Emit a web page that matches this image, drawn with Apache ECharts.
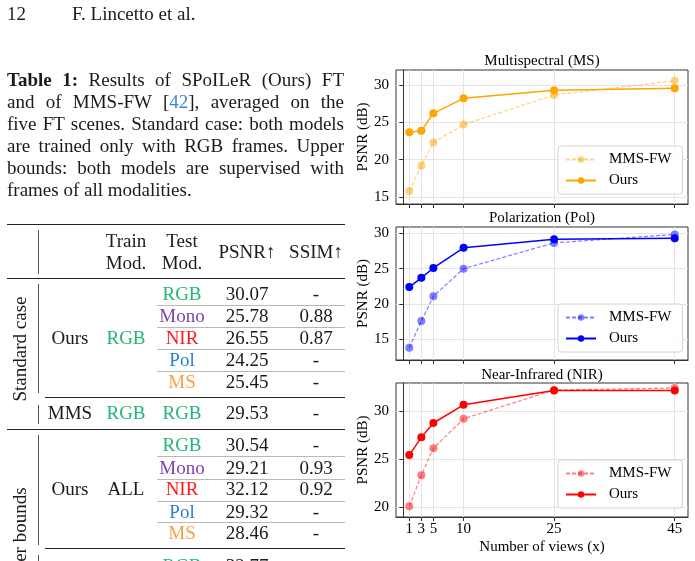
<!DOCTYPE html>
<html lang="en">
<head>
    <meta charset="UTF-8">
    <title>SPoILeR results</title>
    <script src="https://cdn.jsdelivr.net/npm/echarts@6.0.0/dist/echarts.min.js"></script>
<style>
    * {
        padding: 0;
        margin: 0;
    }
    body {
        background: #fff;
    }
    #page {
        position: relative;
        width: 695px;
        height: 561px;
        overflow: hidden;
    }
    #chart {
        position: absolute;
        left: 0;
        top: 0;
        width: 695px;
        height: 561px;
    }
    #paper {
        position: absolute;
        left: 0;
        top: 0;
        width: 695px;
        height: 561px;
        overflow: hidden;
        pointer-events: none;
        font-family: "Liberation Serif", "Times New Roman", serif;
        font-size: 19px;
        color: #1a1a1a;
    }
    .tx {
        position: absolute;
        white-space: nowrap;
        line-height: 22px;
    }
    .cap {
        text-align: justify;
        text-align-last: justify;
    }
    .lastcap {
        text-align-last: left;
    }
    .ln {
        position: absolute;
    }
</style>
</head>
<body>
<div id="page">
    <div id="chart"></div>
    <div id="paper"></div>
</div>
<script type="text/javascript">
    // number of views on the x axis
    var views = [1, 3, 5, 10, 25, 45];

    // PSNR (dB)
    var msMms   = [15.8, 19.2, 22.3, 24.7, 28.65, 30.55];
    var msOurs  = [23.65, 23.85, 26.2, 28.2, 29.3, 29.55];
    var polMms  = [13.8, 17.6, 21.1, 25.0, 28.65, 29.85];
    var polOurs = [22.4, 23.7, 25.1, 27.95, 29.15, 29.3];
    var nirMms  = [20.1, 23.35, 26.15, 29.25, 32.25, 32.45];
    var nirOurs = [25.45, 27.3, 28.8, 30.7, 32.2, 32.2];

    var yTicksMs  = [15, 20, 25, 30];
    var yTicksPol = [15, 20, 25, 30];
    var yTicksNir = [20, 25, 30];

    // table 1
    var testMods = ['RGB', 'Mono', 'NIR', 'Pol', 'MS'];
    var stdPsnr = ['30.07', '25.78', '26.55', '24.25', '25.45'];
    var stdSsim = ['-', '0.88', '0.87', '-', '-'];
    var mmsPsnr = ['29.53'];
    var mmsSsim = ['-'];
    var ubPsnr = ['30.54', '29.21', '32.12', '29.32', '28.46'];
    var ubSsim = ['-', '0.93', '0.92', '-', '-'];

    var modColors = {RGB: '#22b573', Mono: '#7d3fb2', NIR: '#ff1a1a', Pol: '#2a7fd1', MS: '#f6a046'};

    var serif = '"Liberation Serif", "Times New Roman", serif';

    // ---------- charts ----------
    var panels = [
        {key: 'MS', title: 'Multispectral (MS)', color: '#FFA500', mms: msMms, ours: msOurs,
            ticks: yTicksMs, ymin: 14.05, ymax: 32.0, top: 70, height: 134, legendTop: 146, titleY: 61},
        {key: 'Pol', title: 'Polarization (Pol)', color: '#0000FF', mms: polMms, ours: polOurs,
            ticks: yTicksPol, ymin: 12.07, ymax: 30.9, top: 227, height: 133, legendTop: 304, titleY: 218},
        {key: 'NIR', title: 'Near-Infrared (NIR)', color: '#FF0000', mms: nirMms, ours: nirOurs,
            ticks: yTicksNir, ymin: 18.98, ymax: 32.98, top: 383, height: 134, legendTop: 460, titleY: 375}
    ];

    function pairs(ys) {
        return views.map(function (v, j) { return [v, ys[j]]; });
    }

    var grids = [], xAxes = [], yAxes = [], series = [], legends = [], graphics = [];
    panels.forEach(function (p, i) {
        var last = i === panels.length - 1;
        grids.push({left: 396, top: p.top, width: 292, height: p.height,
            show: true, borderColor: '#333', borderWidth: 1, backgroundColor: 'transparent'});
        xAxes.push({
            type: 'value', gridIndex: i, min: -1.2, max: 47.2,
            axisLine: {show: true, onZero: false, lineStyle: {color: '#333'}},
            axisTick: {show: true, customValues: views, length: 4, lineStyle: {color: '#333'}},
            axisLabel: {show: last, customValues: views, color: '#000', fontFamily: serif, fontSize: 15, margin: 5},
            splitLine: {show: true, lineStyle: {color: '#e4e4e4'}},
            name: last ? 'Number of views (x)' : '', nameLocation: 'middle', nameGap: 23,
            nameTextStyle: {color: '#000', fontFamily: serif, fontSize: 15}
        });
        yAxes.push({
            type: 'value', gridIndex: i, min: p.ymin, max: p.ymax,
            axisLine: {show: true, lineStyle: {color: '#333'}},
            axisTick: {show: true, customValues: p.ticks, length: 4, lineStyle: {color: '#333'}},
            axisLabel: {customValues: p.ticks, color: '#000', fontFamily: serif, fontSize: 15, margin: 7},
            splitLine: {show: true, lineStyle: {color: '#e4e4e4'}},
            name: 'PSNR (dB)', nameLocation: 'middle', nameGap: 25,
            nameTextStyle: {color: '#000', fontFamily: serif, fontSize: 15}
        });
        series.push({
            name: p.key + '|MMS-FW', type: 'line', xAxisIndex: i, yAxisIndex: i,
            data: pairs(p.mms), symbol: 'circle', symbolSize: 8,
            lineStyle: {type: [4, 2], width: 1.2, color: p.color, opacity: 0.5},
            itemStyle: {color: p.color, opacity: 0.5}, z: 2
        });
        series.push({
            name: p.key + '|Ours', type: 'line', xAxisIndex: i, yAxisIndex: i,
            data: pairs(p.ours), symbol: 'circle', symbolSize: 8,
            lineStyle: {width: 1.5, color: p.color},
            itemStyle: {color: p.color}, z: 3
        });
        legends.push({
            data: [p.key + '|MMS-FW', p.key + '|Ours'], orient: 'vertical',
            left: 558, top: p.legendTop, itemWidth: 30, itemHeight: 8, itemGap: 6,
            formatter: function (n) { return n.split('|')[1]; },
            textStyle: {color: '#000', fontFamily: serif, fontSize: 15, padding: [0, 0, 0, 8]},
            backgroundColor: 'rgba(255,255,255,0.85)', borderColor: '#d4d4d4', borderWidth: 1,
            borderRadius: 3, padding: [6, 11, 6, 7], selectedMode: false
        });
        graphics.push({
            type: 'text', x: 542, y: p.titleY,
            style: {text: p.title, fill: '#000', font: '15px ' + serif, align: 'center', verticalAlign: 'middle'}
        });
    });

    var myChart = echarts.init(document.getElementById('chart'), null, {width: 695, height: 561});
    myChart.setOption({
        backgroundColor: '#fff',
        animation: false,
        grid: grids,
        xAxis: xAxes,
        yAxis: yAxes,
        legend: legends,
        series: series,
        graphic: graphics
    });

    // ---------- page text and table ----------
    var paper = document.getElementById('paper');

    function put(html, x, y, opts) {
        opts = opts || {};
        var el = document.createElement('div');
        el.className = 'tx';
        el.innerHTML = html;
        el.style.left = x + 'px';
        el.style.top = y + 'px';
        if (opts.color) el.style.color = opts.color;
        var tr = opts.anchor === 'left' ? 'translate(0,-50%)' : 'translate(-50%,-50%)';
        if (opts.rotate) tr += ' rotate(-90deg)';
        el.style.transform = tr;
        paper.appendChild(el);
        return el;
    }

    function rule(x1, x2, y, w, color) {
        var el = document.createElement('div');
        el.className = 'ln';
        el.style.left = x1 + 'px';
        el.style.top = (y - w / 2) + 'px';
        el.style.width = (x2 - x1) + 'px';
        el.style.height = w + 'px';
        el.style.background = color || '#222';
        paper.appendChild(el);
    }

    function vrule(x, y1, y2) {
        var el = document.createElement('div');
        el.className = 'ln';
        el.style.left = (x - 0.5) + 'px';
        el.style.top = y1 + 'px';
        el.style.width = '1px';
        el.style.height = (y2 - y1) + 'px';
        el.style.background = '#555';
        paper.appendChild(el);
    }

    put('12', 7, 14, {anchor: 'left'});
    put('F. Lincetto et al.', 72, 14, {anchor: 'left'});

    var caption = [
        '<b>Table 1:</b> Results of SPoILeR (Ours) FT',
        'and of MMS-FW [<span style="color:#3b86d4">42</span>], averaged on the',
        'five FT scenes. Standard case: both models',
        'are trained only with RGB frames. Upper',
        'bounds: both models are supervised with',
        'frames of all modalities.'
    ];
    var capY = [80, 101.7, 123.5, 145.7, 167.7, 190];
    caption.forEach(function (t, i) {
        var el = put(t, 7, capY[i], {anchor: 'left'});
        el.style.width = '337px';
        el.className = 'tx cap' + (i === caption.length - 1 ? ' lastcap' : '');
    });

    var colX = {group: 20, method: 70, train: 126, test: 182, psnr: 247, ssim: 316};

    // header
    rule(7, 345, 224.3, 1.5);
    vrule(38, 230, 274);
    put('Train', colX.train, 240.7);
    put('Mod.', colX.train, 262.7);
    put('Test', colX.test, 240.7);
    put('Mod.', colX.test, 262.7);
    put('PSNR&uarr;', colX.psnr, 251.5);
    put('SSIM&uarr;', colX.ssim, 251.5);
    rule(7, 345, 278.3, 1);

    function block(rowsY, psnr, ssim) {
        testMods.forEach(function (m, i) {
            put(m, colX.test, rowsY[i], {color: modColors[m]});
            put(psnr[i], colX.psnr, rowsY[i]);
            put(ssim[i], colX.ssim, rowsY[i]);
            if (i < testMods.length - 1) {
                rule(157, 345, (rowsY[i] + rowsY[i + 1]) / 2 + 0.5, 1, '#b8b8b8');
            }
        });
    }

    // standard case
    var stdY = [294.3, 316, 338.3, 360, 381.7];
    vrule(38, 284, 393);
    put('Standard case', colX.group, 349, {rotate: true});
    put('Ours', colX.method, 338.3);
    put('RGB', colX.train, 338.3, {color: modColors.RGB});
    block(stdY, stdPsnr, stdSsim);
    rule(45, 345, 397.7, 1);

    vrule(38, 405, 424);
    put('MMS', colX.method, 413.3);
    put('RGB', colX.train, 413.3, {color: modColors.RGB});
    put('RGB', colX.test, 413.3, {color: modColors.RGB});
    put(mmsPsnr[0], colX.psnr, 413.3);
    put(mmsSsim[0], colX.ssim, 413.3);
    rule(7, 345, 429.3, 1);

    // upper bounds
    var ubY = [445, 467.7, 489.3, 511.7, 532.7];
    vrule(38, 435, 545);
    put('Upper bounds', colX.group, 541, {rotate: true});
    put('Ours', colX.method, 489.3);
    put('ALL', colX.train, 489.3);
    block(ubY, ubPsnr, ubSsim);
    rule(45, 345, 548.3, 1);

    vrule(38, 555, 570);
    put('RGB', colX.test, 566, {color: modColors.RGB});
    put('32.77', colX.psnr, 566);
</script>
</body>
</html>
